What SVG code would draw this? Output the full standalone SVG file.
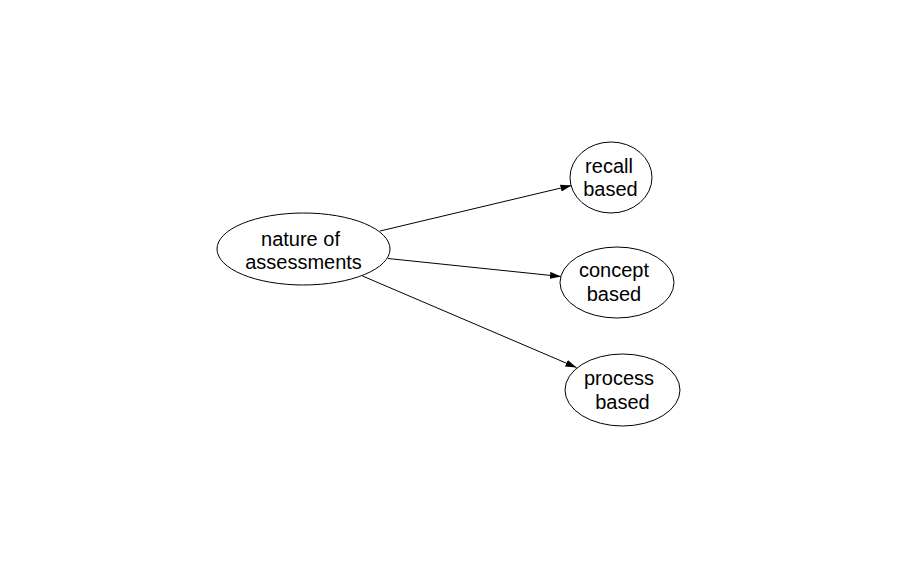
<svg xmlns="http://www.w3.org/2000/svg" width="897" height="568" viewBox="0 0 897 568">
<style>
.node ellipse{fill:#fff;stroke:#000;stroke-width:1}
.node text{font-family:"Liberation Sans",Arial,sans-serif;font-size:20px;fill:#000;text-anchor:middle}
.edge{stroke:#000;stroke-width:1;fill:none;marker-end:url(#arrow)}
</style>
<defs>
<marker id="arrow" markerUnits="userSpaceOnUse" markerWidth="12" markerHeight="8" refX="11" refY="3.5" orient="auto">
<path d="M0,0 L11,3.5 L0,7 z" fill="#000"/>
</marker>
</defs>
<rect width="897" height="568" fill="#fff"/>
<g id="connectors">
<line class="edge" x1="380" y1="231" x2="571.5" y2="185.5"/>
<line class="edge" x1="388" y1="258.5" x2="561" y2="276.5"/>
<line class="edge" x1="362.5" y1="276" x2="576.5" y2="367.5"/>
</g>
<g id="node-nature" class="node">
<ellipse cx="303.5" cy="249" rx="86.5" ry="36"/>
<text x="300.5" y="245.5">nature of</text>
<text x="303.5" y="268.5">assessments</text>
</g>
<g id="node-recall" class="node">
<ellipse cx="611" cy="177.5" rx="41" ry="35.5"/>
<text x="609" y="172.5">recall</text>
<text x="610.5" y="195.5">based</text>
</g>
<g id="node-concept" class="node">
<ellipse cx="617" cy="282.5" rx="57" ry="35.5"/>
<text x="614" y="277">concept</text>
<text x="614" y="300.5">based</text>
</g>
<g id="node-process" class="node">
<ellipse cx="622.5" cy="390" rx="57.5" ry="36"/>
<text x="619" y="385">process</text>
<text x="622.5" y="408.5">based</text>
</g>
</svg>
